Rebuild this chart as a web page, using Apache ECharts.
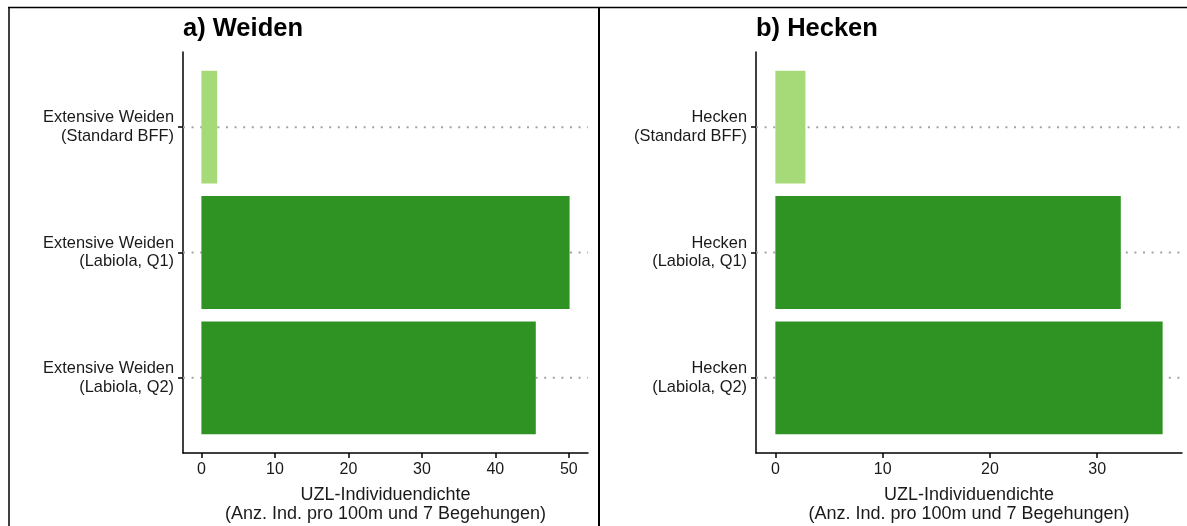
<!DOCTYPE html>
<html>
<head>
<meta charset="utf-8">
<script src="https://cdn.jsdelivr.net/npm/echarts@6/dist/echarts.min.js"></script>
<style>
  html, body { margin: 0; padding: 0; background: #ffffff; }
  #chart { width: 1187px; height: 526px; }
</style>
</head>
<body>
<div id="chart"></div>
<script>
// Panel a) pastures
const categoriesWeiden = ['Extensive Weiden\n(Standard BFF)', 'Extensive Weiden\n(Labiola, Q1)', 'Extensive Weiden\n(Labiola, Q2)'];
const valuesWeiden = [2.15, 50.1, 45.5];
const ticksWeiden = [0, 10, 20, 30, 40, 50];

// Panel b) hedges
const categoriesHecken = ['Hecken\n(Standard BFF)', 'Hecken\n(Labiola, Q1)', 'Hecken\n(Labiola, Q2)'];
const valuesHecken = [2.8, 32.2, 36.1];
const ticksHecken = [0, 10, 20, 30];

const panelTitles = ['a) Weiden', 'b) Hecken'];
const axisTitle = 'UZL-Individuendichte\n(Anz. Ind. pro 100m und 7 Begehungen)';
const barColors = ['#a6da78', '#2e9322', '#2e9322'];

const FONT = '"Liberation Sans", Arial, Helvetica, sans-serif';
const TEXT = '#1a1a1a';

const chart = echarts.init(document.getElementById('chart'), null, { renderer: 'canvas' });

function xAxisFor(gridIndex, values, ticks) {
  const maxV = Math.max(...values);
  return {
    type: 'value', gridIndex,
    min: -0.05 * maxV, max: 1.05 * maxV,
    axisLine: { show: true, onZero: false, lineStyle: { color: '#000', width: 1.5 } },
    axisTick: { show: true, length: 5, customValues: ticks, lineStyle: { color: '#000', width: 1.5 } },
    axisLabel: { customValues: ticks, margin: 9, fontSize: 16, color: TEXT, fontFamily: FONT },
    splitLine: { show: false },
    name: axisTitle, nameLocation: 'middle', nameGap: 32,
    nameTextStyle: { fontSize: 18, lineHeight: 19.5, color: TEXT, fontFamily: FONT, verticalAlign: 'top' }
  };
}

function yAxisFor(gridIndex, categories) {
  const pos = categories.map((_, i) => i + 1);
  return {
    type: 'value', gridIndex, inverse: true,
    min: 0.4, max: categories.length + 0.6,
    axisLine: { show: true, onZero: false, lineStyle: { color: '#000', width: 1.5 } },
    axisTick: { show: true, length: 5, customValues: pos, lineStyle: { color: '#000', width: 1.5 } },
    axisLabel: {
      customValues: pos, margin: 9, fontSize: 16.4, lineHeight: 18.5, color: TEXT, fontFamily: FONT, align: 'right',
      formatter: v => categories[Math.round(v) - 1]
    },
    splitLine: { show: false }
  };
}

// dotted guide line across the panel at each category position
function guideSeries(idx, categories) {
  return {
    type: 'custom', xAxisIndex: idx, yAxisIndex: idx, z: 1, silent: true,
    data: categories.map((_, i) => [0, i + 1]),
    renderItem: (params, api) => {
      const cs = params.coordSys;
      const y = api.coord([0, api.value(1)])[1];
      return {
        type: 'line',
        shape: { x1: cs.x, y1: y, x2: cs.x + cs.width, y2: y },
        style: { stroke: '#a3a3a3', lineWidth: 2, lineDash: [2, 6.6] }
      };
    }
  };
}

// horizontal bars sized from the axis scales (0.9 of a category step)
function barSeries(idx, values) {
  return {
    type: 'custom', xAxisIndex: idx, yAxisIndex: idx, z: 2, silent: true,
    data: values.map((v, i) => [v, i + 1, i]),
    renderItem: (params, api) => {
      const p0 = api.coord([0, api.value(1)]);
      const p1 = api.coord([api.value(0), api.value(1)]);
      const h = api.size([0, 0.9])[1];
      return {
        type: 'rect',
        shape: { x: p0[0], y: p0[1] - h / 2, width: p1[0] - p0[0], height: h },
        style: { fill: barColors[api.value(2)] }
      };
    }
  };
}

const titleStyle = { fontSize: 25.5, fontWeight: 'bold', color: '#000', fontFamily: FONT };

const option = {
  backgroundColor: '#ffffff',
  animation: false,
  title: [
    { text: panelTitles[0], left: 183, top: 16, padding: 0, textStyle: titleStyle },
    { text: panelTitles[1], left: 756, top: 16, padding: 0, textStyle: titleStyle }
  ],
  grid: [
    { left: 183, right: 599, top: 52, bottom: 73, outerBoundsMode: 'none', containLabel: false },
    { left: 756, right: 5, top: 52, bottom: 73, outerBoundsMode: 'none', containLabel: false }
  ],
  xAxis: [xAxisFor(0, valuesWeiden, ticksWeiden), xAxisFor(1, valuesHecken, ticksHecken)],
  yAxis: [yAxisFor(0, categoriesWeiden), yAxisFor(1, categoriesHecken)],
  series: [
    guideSeries(0, categoriesWeiden), barSeries(0, valuesWeiden),
    guideSeries(1, categoriesHecken), barSeries(1, valuesHecken)
  ],
  graphic: [
    // panel frames
    { type: 'line', shape: { x1: 8, y1: 7.5, x2: 1187, y2: 7.5 }, style: { stroke: '#000', lineWidth: 1.5 } },
    { type: 'line', shape: { x1: 9, y1: 7, x2: 9, y2: 526 }, style: { stroke: '#000', lineWidth: 1.5 } },
    { type: 'line', shape: { x1: 599, y1: 7, x2: 599, y2: 526 }, style: { stroke: '#000', lineWidth: 2 } }
  ]
};

chart.setOption(option);
</script>
</body>
</html>
